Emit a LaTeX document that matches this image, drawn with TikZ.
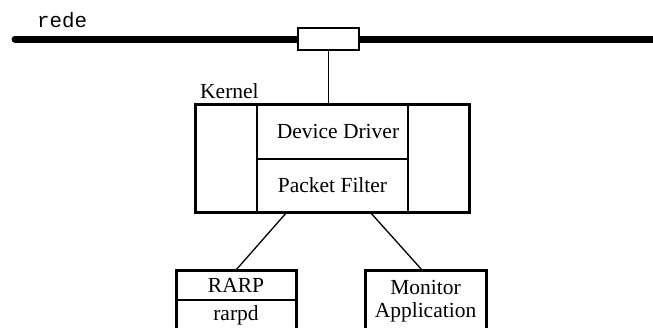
\documentclass[tikz,border=0pt]{standalone}
\usepackage{fontspec}
\setmainfont{Liberation Serif}
\setmonofont{Liberation Mono}
\begin{document}
\begin{tikzpicture}[x=1pt,y=-1pt,
  thickbox/.style={draw, line width=3pt, inner sep=0pt, outer sep=0pt},
  thinline/.style={line width=1.3pt},
  lbl/.style={font=\fontsize{21.5}{23}\selectfont, inner sep=0pt},
  cell/.style={inner sep=0pt, outer sep=0pt, font=\fontsize{21.5}{23}\selectfont}]
\useasboundingbox (0,0) rectangle (653,327);
\clip (0,0) rectangle (653,327);

% network bus and tap
\draw[line width=7pt, line cap=round] (15,39) -- (670,39);
\node[draw, fill=white, thinline, minimum width=61pt, minimum height=22pt, inner sep=0pt] (tap) at (328.5,39) {};
\node[font=\ttfamily\fontsize{20.8}{22}\selectfont, anchor=base west, inner sep=0pt] (rede) at (37,27) {rede};

% kernel with its columns
\node[thickbox, minimum width=274pt, minimum height=108pt] (kernel) at (332,158) {};
\node[lbl, anchor=base west] (klabel) at (200,98) {Kernel};
\node[cell, minimum width=151pt, minimum height=55pt] (dd) at (332.5,131.5) {\hspace*{11pt}Device Driver};
\node[cell, minimum width=151pt, minimum height=53pt] (pf) at (332.5,185.5) {Packet Filter};
\draw[thinline] (dd.north west) -- (pf.south west);
\draw[thinline] (dd.north east) -- (pf.south east);
\draw[thinline] (dd.south west) -- (dd.south east);
\node[thickbox, minimum width=274pt, minimum height=108pt] at (kernel.center) {};

% link from the tap to the kernel
\draw[thinline] (tap.south) -- (tap.south |- kernel.north);

% user-level processes
\node[thickbox, minimum width=120pt, minimum height=80pt, anchor=north] (rarp) at (236,270) {};
\node[lbl] (rarpt) at (236,285.5) {RARP};
\node[lbl] (rarpd) at (236,315) {rarpd};
\draw[thinline] ([yshift=-30pt]rarp.north west) -- ([yshift=-30pt]rarp.north east);

\node[thickbox, minimum width=121pt, minimum height=80pt, anchor=north] (mon) at (425.5,270) {};
\node[lbl, align=center, font=\fontsize{21.5}{22.5}\selectfont] (mont) at (425.5,301) {Monitor\\Application};

% kernel to processes
\draw[thinline] ([xshift=-45pt]kernel.south) -- ([xshift=0pt]rarp.north);
\draw[thinline] ([xshift=38pt]kernel.south) -- ([xshift=-3.5pt]mon.north);
\end{tikzpicture}
\end{document}
